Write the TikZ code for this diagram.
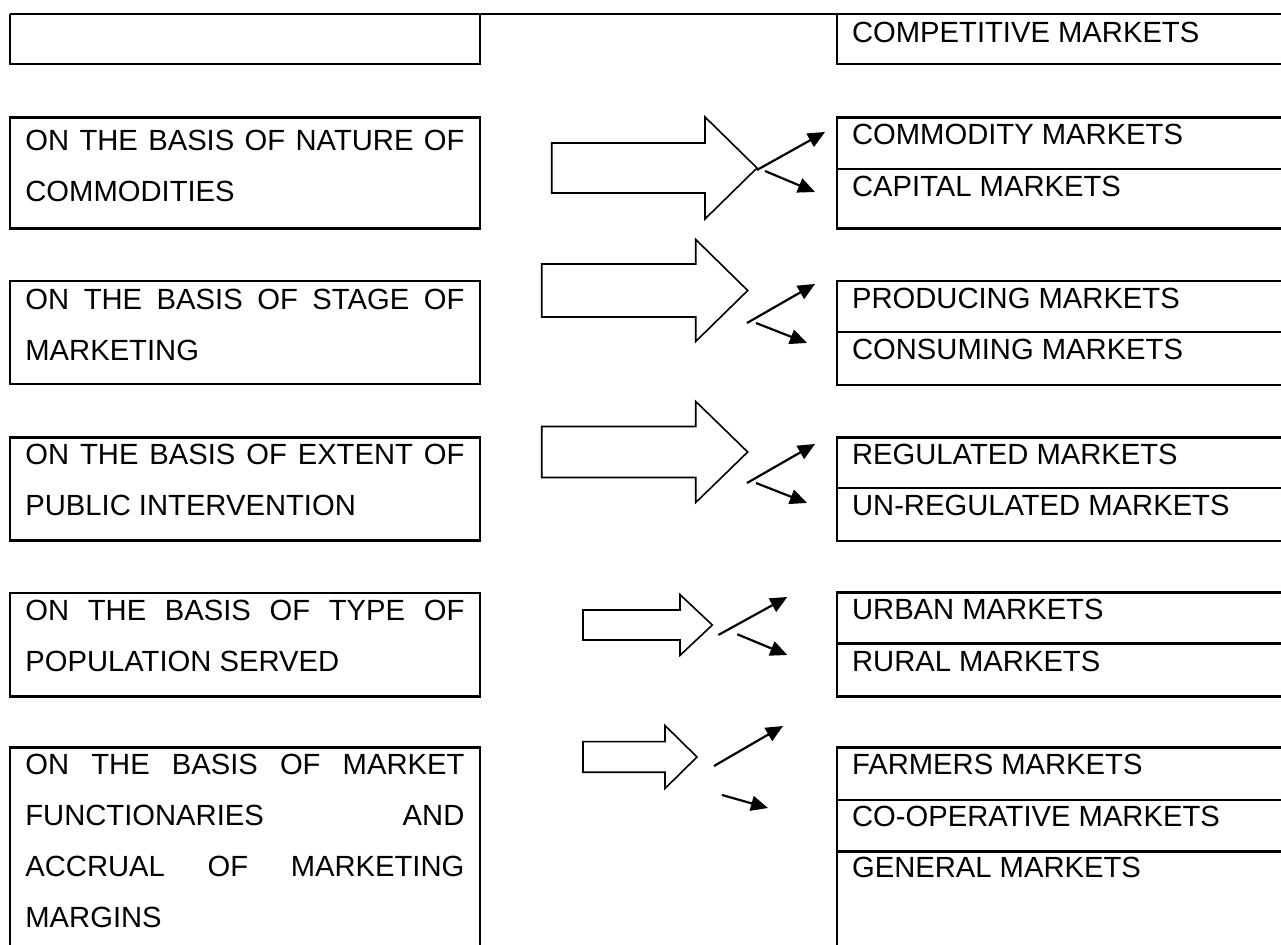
\documentclass[tikz,border=0pt]{standalone}
\usepackage{fontspec}
\setmainfont{Liberation Sans}
\usetikzlibrary{arrows.meta}
\tolerance=10000
\hbadness=10000

\tikzset{
  box/.style={line width=1.2pt},
  txt/.style={anchor=base west, inner sep=0pt, font={\fontsize{14.6pt}{25.5pt}\selectfont}},
  basis/.style={txt, text width=219.5pt, align=justify},
  fat/.style={line width=0.8pt, line join=miter},
  ptr/.style={line width=1.1pt, -{Triangle[length=8.5pt,width=7.5pt]}},
}

\begin{document}
\begin{tikzpicture}[x=0.5pt, y=-0.5pt]
\useasboundingbox (0,0) rectangle (1281,945);

% top row (cut off)
\draw[box] (10,14.3) -- (1300,14.3);
\draw[box] (10,14.3) -- (10,64.3) -- (480,64.3) -- (480,14.3);
\draw[box] (837,14.3) -- (837,64.3) -- (1300,64.3);
\node[txt] (compet) at (851.7,43) {COMPETITIVE MARKETS};

% left boxes
\foreach \t/\b in {117.7/228.7, 281/384.3, 437.7/540.7, 593.3/696.7}
  \draw[box] (10,\t) rectangle (480,\b);
\draw[box] (10,960) -- (10,747.7) -- (480,747.7) -- (480,960);

\node[basis] (nature) at (25,151) {ON THE BASIS OF NATURE OF\linebreak COMMODITIES};
\node[basis] (stage) at (25,310) {ON THE BASIS OF STAGE OF\linebreak MARKETING};
\node[basis] (extent) at (25,465) {ON THE BASIS OF EXTENT OF\linebreak PUBLIC INTERVENTION};
\node[basis] (popul) at (25,620.7) {ON THE BASIS OF TYPE OF\linebreak POPULATION SERVED};
\node[basis] (functn) at (25,775) {ON THE BASIS OF MARKET\linebreak FUNCTIONARIES AND\linebreak ACCRUAL OF MARKETING\linebreak MARGINS};

% right boxes
\foreach \t/\b/\d in {117.7/228.7/169, 281/385/332, 437.7/541/488, 592.7/696.7/643.7}{
  \draw[box] (1300,\t) -- (837,\t) -- (837,\b) -- (1300,\b);
  \draw[box] (837,\d) -- (1300,\d);
}
\draw[box] (1300,747.7) -- (837,747.7) -- (837,960);
\draw[box] (837,800) -- (1300,800);
\draw[box] (837,851.7) -- (1300,851.7);

\node[txt] (commod) at (851.7,145) {COMMODITY MARKETS};
\node[txt] (capital) at (851.7,196.7) {CAPITAL MARKETS};
\node[txt] (produc) at (851.7,308.3) {PRODUCING MARKETS};
\node[txt] (consum) at (851.7,360) {CONSUMING MARKETS};
\node[txt] (regul) at (851.7,465) {REGULATED MARKETS};
\node[txt] (unregul) at (851.7,516) {UN-REGULATED MARKETS};
\node[txt] (urban) at (851.7,620) {URBAN MARKETS};
\node[txt] (rural) at (851.7,671.7) {RURAL MARKETS};
\node[txt] (farmer) at (851.7,775) {FARMERS MARKETS};
\node[txt] (coop) at (851.7,827) {CO-OPERATIVE MARKETS};
\node[txt] (general) at (851.7,878) {GENERAL MARKETS};

% block arrows
\foreach \xa/\xb/\xt/\c/\h/\hh in {551.7/705/757/168/25/51, 541.7/695.7/747.7/290.5/26.5/51,
    541.7/695.7/747.7/452/25.5/50.6, 583/680/712.3/625/15/30.4, 583/665/697/757/15.3/31.5}
  \draw[fat] (\xa,\c-\h) -- (\xb,\c-\h) -- (\xb,\c-\hh) -- (\xt,\c)
    -- (\xb,\c+\hh) -- (\xb,\c+\h) -- (\xa,\c+\h) -- cycle;

% split arrows
\foreach \n/\ax/\ay/\bx/\by/\cx/\cy/\dx/\dy in {1/757/170/825/132/765/171/815/192,
    2/747/323/815/284/756/323/807/343, 3/747/483/815/444/756/483/807/503,
    4/718.3/635/787.3/597/737.3/634.3/787.3/655, 5/714/766/783/726/722/795/768/808}{
  \coordinate (up\n) at (\ax,\ay);
  \coordinate (upend\n) at (\bx,\by);
  \coordinate (dn\n) at (\cx,\cy);
  \coordinate (dnend\n) at (\dx,\dy);
  \draw[ptr] (up\n) -- (upend\n);
  \draw[ptr] (dn\n) -- (dnend\n);
}
\end{tikzpicture}
\end{document}
